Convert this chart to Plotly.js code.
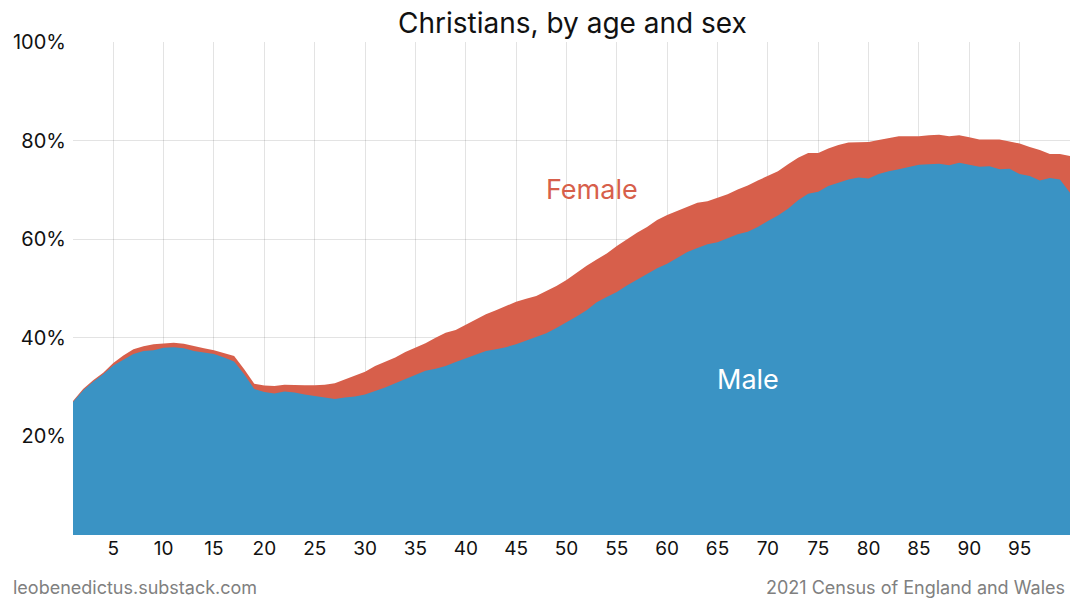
<!DOCTYPE html>
<html>
<head>
<meta charset="utf-8">
<script src="https://cdn.plot.ly/plotly-3.0.1.min.js"></script>
<style>
  body { margin: 0; background: #fff; }
  #chart { width: 1080px; height: 609px; }
</style>
</head>
<body>
<div id="chart"></div>
<script>
// share identifying as Christian, by single year of age
const ages = [];
for (let a = 1; a <= 100; a++) { ages.push(a); }

const female = [
  27.2, 29.6, 31.4, 32.9, 34.9, 36.4, 37.7, 38.3, 38.7, 38.9,
  39.0, 38.8, 38.3, 37.9, 37.5, 36.9, 36.3, 33.6, 30.7, 30.3,
  30.2, 30.5, 30.4, 30.4, 30.4, 30.5, 30.8, 31.6, 32.4, 33.1,
  34.3, 35.1, 36.0, 37.1, 38.0, 38.9, 40.0, 41.0, 41.6, 42.7,
  43.7, 44.8, 45.6, 46.4, 47.3, 47.9, 48.5, 49.5, 50.5, 51.7,
  53.2, 54.6, 55.9, 57.1, 58.6, 60.0, 61.3, 62.5, 63.9, 64.9,
  65.7, 66.5, 67.4, 67.7, 68.4, 69.1, 70.1, 70.9, 71.9, 72.9,
  73.8, 75.2, 76.5, 77.5, 77.5, 78.4, 79.1, 79.6, 79.6, 79.7,
  80.1, 80.5, 80.9, 80.9, 80.9, 81.1, 81.2, 80.9, 81.1, 80.7,
  80.2, 80.2, 80.2, 79.8, 79.4, 78.7, 78.1, 77.3, 77.3, 76.9
];

const male = [
  27.0, 29.3, 31.1, 32.6, 34.4, 35.6, 36.7, 37.3, 37.5, 38.0,
  38.1, 37.9, 37.3, 37.0, 36.7, 36.0, 35.2, 32.6, 29.6, 29.0,
  28.7, 29.1, 28.9, 28.5, 28.2, 27.9, 27.6, 27.9, 28.1, 28.5,
  29.2, 29.9, 30.8, 31.6, 32.5, 33.3, 33.7, 34.3, 35.1, 35.8,
  36.6, 37.3, 37.7, 38.1, 38.7, 39.4, 40.2, 40.9, 42.0, 43.1,
  44.3, 45.6, 47.2, 48.3, 49.3, 50.6, 51.8, 53.0, 54.1, 55.0,
  56.2, 57.4, 58.2, 59.0, 59.4, 60.2, 61.0, 61.5, 62.5, 63.7,
  64.8, 66.2, 67.9, 69.2, 69.6, 70.8, 71.5, 72.1, 72.5, 72.3,
  73.2, 73.8, 74.2, 74.6, 75.1, 75.2, 75.3, 75.0, 75.5, 75.1,
  74.7, 74.8, 74.2, 74.3, 73.2, 72.8, 71.9, 72.4, 72.1, 69.4
];

const xTicks = [5, 10, 15, 20, 25, 30, 35, 40, 45, 50, 55, 60, 65, 70, 75, 80, 85, 90, 95];
const yTicks = [20, 40, 60, 80, 100];
const yLabels = ['20%', '40%', '60%', '80%', '100%'];

const red = '#d75f4b';
const blue = '#3a93c4';

const data = [
  { x: ages, y: female, type: 'scatter', mode: 'lines', name: 'Female',
    fill: 'tozeroy', fillcolor: red, line: {width: 0, color: red}, hoverinfo: 'skip' },
  { x: ages, y: male, type: 'scatter', mode: 'lines', name: 'Male',
    fill: 'tozeroy', fillcolor: blue, line: {width: 0, color: blue}, hoverinfo: 'skip' }
];

const font = 'Inter, "Noto Sans", sans-serif';

const layout = {
  width: 1080, height: 609,
  margin: {l: 73, r: 10, t: 42, b: 74},
  paper_bgcolor: '#fff', plot_bgcolor: '#fff',
  showlegend: false,
  font: {family: font, color: '#111', size: 19},
  title: {text: 'Christians, by age and sex', x: 0.53, xanchor: 'center',
          y: 0.962, yanchor: 'middle', font: {family: font, size: 28, color: '#111'}},
  xaxis: {
    range: [1, 100], tickvals: xTicks, showgrid: true,
    gridcolor: 'rgba(0,0,0,0.11)', gridwidth: 1, zeroline: false,
    showline: false, ticks: '', layer: 'above traces',
    tickfont: {size: 19, color: '#111'}, fixedrange: true
  },
  yaxis: {
    range: [0, 100], tickvals: yTicks, ticktext: yLabels, showgrid: true,
    gridcolor: 'rgba(0,0,0,0.11)', gridwidth: 1, zeroline: false,
    showline: false, ticks: '', layer: 'above traces', ticklabelstandoff: 6,
    tickfont: {size: 20, color: '#111'}, fixedrange: true
  },
  annotations: [
    { x: 52.5, y: 70, xref: 'x', yref: 'y', text: 'Female', showarrow: false,
      font: {size: 27, color: red, family: font} },
    { x: 68, y: 31.5, xref: 'x', yref: 'y', text: 'Male', showarrow: false,
      font: {size: 27, color: '#fff', family: font} },
    { x: 0, y: -0.107, xref: 'paper', yref: 'paper', xanchor: 'left', yanchor: 'middle',
      xshift: -62, text: 'leobenedictus.substack.com', showarrow: false,
      font: {size: 18, color: '#808080', family: font} },
    { x: 1, y: -0.107, xref: 'paper', yref: 'paper', xanchor: 'right', yanchor: 'middle',
      xshift: -3, text: '2021 Census of England and Wales', showarrow: false,
      font: {size: 18, color: '#808080', family: font} }
  ]
};

Plotly.newPlot('chart', data, layout, {displayModeBar: false, staticPlot: true});
</script>
</body>
</html>
